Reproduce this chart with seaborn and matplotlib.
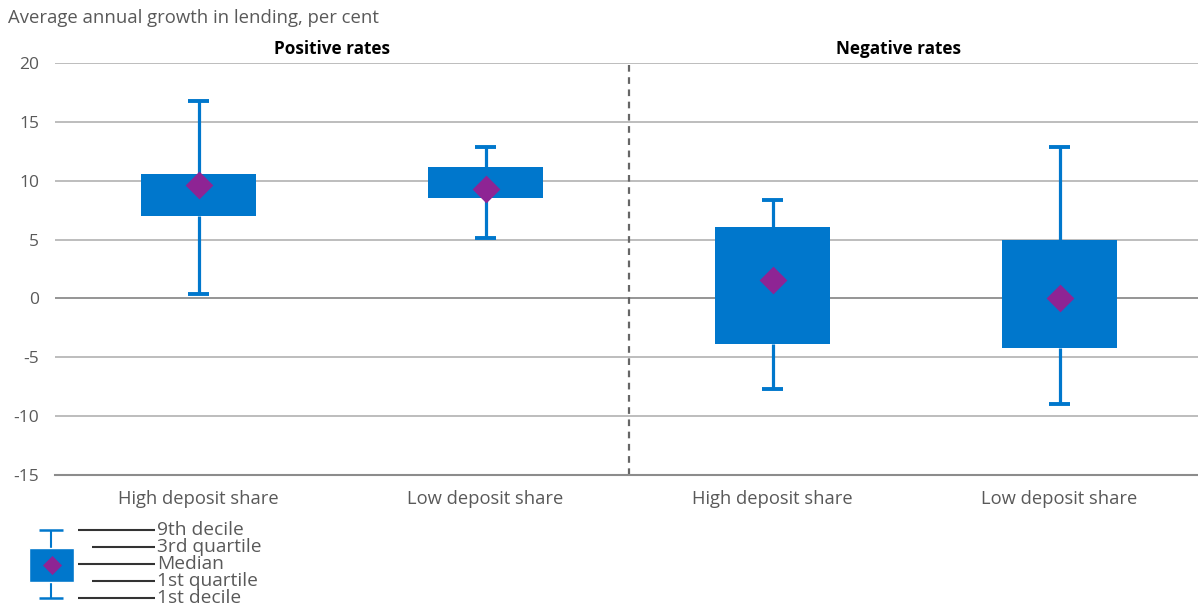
import matplotlib
matplotlib.use("Agg")
import matplotlib.pyplot as plt
import seaborn as sns
import pandas as pd

# ---- data ----
categories = ["High deposit share", "Low deposit share", "High deposit share ", "Low deposit share "]
cat_labels = ["High deposit share", "Low deposit share", "High deposit share", "Low deposit share"]
decile_1 = [0.4, 5.1, -7.7, -9.0]
quartile_1 = [7.0, 8.5, -3.9, -4.2]
median = [9.6, 9.3, 1.6, 0.0]
quartile_3 = [10.6, 11.15, 6.05, 5.0]
decile_9 = [16.8, 12.9, 8.35, 12.9]
panel_titles = ["Positive rates", "Negative rates"]
yticks = [-15, -10, -5, 0, 5, 10, 15, 20]
legend_labels = ["9th decile", "3rd quartile", "Median", "1st quartile", "1st decile"]

BLUE = "#0077CC"
PURPLE = "#8E2494"
TXT = "#595959"

sns.set_theme(style="white")
plt.rcParams["font.family"] = ["Open Sans", "DejaVu Sans"]
plt.rcParams["axes.unicode_minus"] = False

df = pd.DataFrame({
    "cat": categories,
    "q1": quartile_1,
    "iqr": [b - a for a, b in zip(quartile_1, quartile_3)],
    "med": median,
})

fig = plt.figure(figsize=(11.98, 6.06), dpi=100)
ax = fig.add_axes([55 / 1198, 1 - 475 / 606, 1148 / 1198, 412 / 606])

# gridlines
for y in yticks[1:]:
    ax.axhline(y, color="#8c8c8c" if y == 0 else "#b8b8b8", lw=1.3, zorder=0)

# boxes (IQR)
sns.barplot(data=df, x="cat", y="iqr", bottom=df["q1"], color=BLUE, width=0.404,
            saturation=1, ax=ax, zorder=3, linewidth=0)

# whiskers
xs = list(range(len(categories)))
ax.vlines(xs, decile_1, quartile_1, color=BLUE, lw=2.3, zorder=2)
ax.vlines(xs, quartile_3, decile_9, color=BLUE, lw=2.3, zorder=2)
cap = 0.035
ax.hlines(decile_1, [x - cap for x in xs], [x + cap for x in xs], color=BLUE, lw=2.8, zorder=2)
ax.hlines(decile_9, [x - cap for x in xs], [x + cap for x in xs], color=BLUE, lw=2.8, zorder=2)

# medians
sns.scatterplot(x=xs, y=median, marker="D", s=200, color=PURPLE, linewidth=0, ax=ax, zorder=5)

# divider
ax.axvline(1.5, color="#666666", lw=1.6, ls=(0, (3, 2.5)), zorder=1)

ax.set_xlim(-0.5, 3.5)
ax.set_ylim(-15, 20)
ax.set_yticks(yticks)
ax.set_yticklabels([str(v) for v in yticks], color=TXT, fontsize=12.5)
ax.tick_params(axis="y", length=0, pad=11.5)
ax.set_xticks(xs)
ax.set_xticklabels(cat_labels, color=TXT, fontsize=13.2)
ax.tick_params(axis="x", which="major", length=0, pad=11)
ax.set_xticks([-0.5, 0.5, 1.5, 2.5, 3.5], minor=True)
ax.tick_params(axis="x", which="minor", length=6, width=1.2, color="#8c8c8c", direction="out")
ax.set_xlabel("")
ax.set_ylabel("")
for s in ["top", "right", "left"]:
    ax.spines[s].set_visible(False)
ax.spines["bottom"].set_color("#8c8c8c")
ax.spines["bottom"].set_linewidth(1.5)

ax.text(0.465, 20.4, panel_titles[0], ha="center", va="bottom", fontsize=12.3, fontweight="bold", color="black")
ax.text(2.44, 20.4, panel_titles[1], ha="center", va="bottom", fontsize=12.3, fontweight="bold", color="black")

fig.text(8 / 1198, 1 - 18 / 606, "Average annual growth in lending, per cent", ha="left", va="center",
         fontsize=13.3, color=TXT)

# legend key (pixel coordinates)
lax = fig.add_axes([0, 0, 300 / 1198, 86 / 606])
lax.set_xlim(0, 300)
lax.set_ylim(606, 520)
lax.axis("off")
lax.vlines(51, 530, 598, color=BLUE, lw=1.5, zorder=1)
lax.hlines([530, 598], 39, 63, color=BLUE, lw=1.8)
lax.bar([51.5], [34], bottom=[548], width=45, color=BLUE, zorder=2)
lax.scatter([51.5], [565], marker="D", s=95, color=PURPLE, zorder=3, linewidths=0)
ys = [530, 547, 564, 581, 598]
starts = [78, 92, 78, 92, 78]
for y, x0, lab in zip(ys, starts, legend_labels):
    lax.hlines(y, x0, 155, color="#333333", lw=1.5)
    lax.text(157, y, lab, ha="left", va="center", fontsize=13.8, color=TXT)

fig.savefig("out.png", dpi=100)
